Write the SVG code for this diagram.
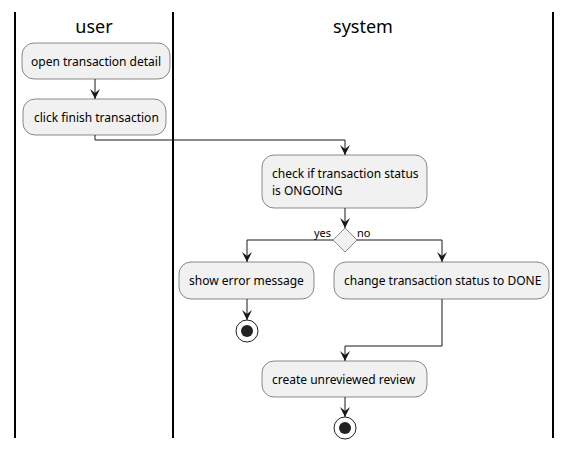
<svg xmlns="http://www.w3.org/2000/svg" width="571" height="450" viewBox="0 0 571 450">
<style>
.lane{stroke:#000;stroke-width:2;fill:none}
.title{font-family:"Noto Sans",sans-serif;font-size:18px;fill:#000;text-anchor:middle}
.act{fill:#F1F1F1;stroke:#181818;stroke-width:0.5}
.t{font-family:"Noto Sans",sans-serif;font-size:12px;fill:#000}
.c{stroke:#181818;stroke-width:1;fill:none}
.lbl{font-family:"Noto Sans",sans-serif;font-size:11px;fill:#000}
</style>
<defs>
<marker id="ah" viewBox="0 0 10 10" refX="10" refY="5" markerWidth="10" markerHeight="10" markerUnits="userSpaceOnUse" orient="auto">
<path d="M0,0 L10,5 L0,10 L4,5 Z" fill="#181818"/>
</marker>
</defs>
<g id="lanes">
<line class="lane" x1="15" y1="12" x2="15" y2="438"/>
<line class="lane" x1="173" y1="12" x2="173" y2="438"/>
<line class="lane" x1="553" y1="12" x2="553" y2="438"/>
<text class="title" x="94" y="33">user</text>
<text class="title" x="363" y="33">system</text>
</g>
<g id="connectors">
<line class="c" x1="95" y1="79" x2="95" y2="99" marker-end="url(#ah)"/>
<polyline class="c" points="95,135 95,140 345,140 345,155" marker-end="url(#ah)"/>
<line class="c" x1="345" y1="208" x2="345" y2="228" marker-end="url(#ah)"/>
<polyline class="c" points="333,240 247,240 247,262" marker-end="url(#ah)"/>
<polyline class="c" points="357,240 442,240 442,262" marker-end="url(#ah)"/>
<line class="c" x1="247" y1="299" x2="247" y2="320" marker-end="url(#ah)"/>
<polyline class="c" points="442,299 442,346 345,346 345,361" marker-end="url(#ah)"/>
<line class="c" x1="345" y1="397" x2="345" y2="417" marker-end="url(#ah)"/>
<text class="lbl" x="314" y="237">yes</text>
<text class="lbl" x="357" y="237">no</text>
</g>
<g id="n1"><rect class="act" x="22" y="43" width="148" height="36" rx="12"/><text class="t" x="31" y="65.5">open transaction detail</text></g>
<g id="n2"><rect class="act" x="23" y="99" width="143" height="36" rx="12"/><text class="t" x="34" y="121.5">click finish transaction</text></g>
<g id="n3"><rect class="act" x="262" y="155" width="165" height="53" rx="12"/><text class="t" x="272" y="178">check if transaction status</text><text class="t" x="272" y="195">is ONGOING</text></g>
<g id="d1"><polygon class="act" points="345,228 357,240 345,252 333,240"/></g>
<g id="n4"><rect class="act" x="179" y="262" width="135" height="37" rx="12"/><text class="t" x="189" y="285">show error message</text></g>
<g id="n5"><rect class="act" x="334" y="262" width="215" height="37" rx="12"/><text class="t" x="344" y="285">change transaction status to DONE</text></g>
<g id="e1"><circle cx="247" cy="331" r="11" fill="none" stroke="#222" stroke-width="1"/><circle cx="247" cy="331" r="6" fill="#222"/></g>
<g id="n6"><rect class="act" x="262" y="361" width="165" height="36" rx="12"/><text class="t" x="272" y="383.5">create unreviewed review</text></g>
<g id="e2"><circle cx="345" cy="428" r="11" fill="none" stroke="#222" stroke-width="1"/><circle cx="345" cy="428" r="6" fill="#222"/></g>
</svg>
